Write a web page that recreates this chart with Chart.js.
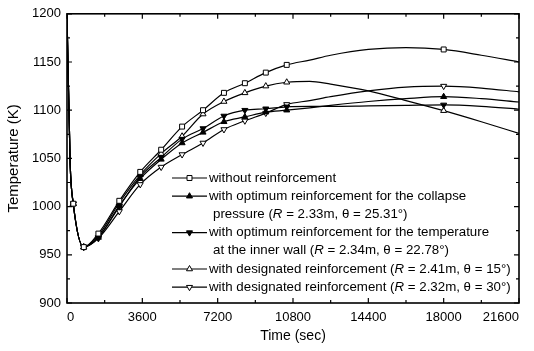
<!DOCTYPE html>
<html>
<head>
<meta charset="utf-8">
<script src="https://cdn.jsdelivr.net/npm/chart.js@4.4.1/dist/chart.umd.min.js"></script>
<style>
  html, body { margin: 0; padding: 0; background: #fff; }
  #wrap { width: 534px; height: 351px; }
</style>
</head>
<body>
<div id="wrap"><canvas id="myChart" width="534" height="351"></canvas></div>
<script>
// time (sec) of each point
var times = [0, 150, 300, 800, 1500, 2500, 3500, 4500, 5500, 6500, 7500, 8500, 9500, 10500, 11600, 12600, 14400, 16200, 18000, 19800, 21600];
// 1 = the original draws a symbol at that point
var showMarker = [0, 0, 1, 1, 1, 1, 1, 1, 1, 1, 1, 1, 1, 1, 0, 0, 0, 0, 1, 0, 0];

var withoutReinf = [1200, 1045, 1003, 958, 972, 1006, 1036, 1059, 1083, 1100, 1118, 1128, 1139, 1147, 1152, 1157, 1163, 1165, 1163, 1157, 1150];
var optCollapse  = [1200, 1045, 1003, 958, 968, 1001, 1029, 1049, 1066, 1077, 1088, 1093, 1098, 1100, 1102.5, 1105, 1109, 1112, 1114, 1112, 1108.5];
var optTemp      = [1200, 1045, 1003, 958, 968, 1000, 1031, 1051, 1070, 1081, 1094, 1100, 1101.5, 1103.5, 1104, 1104, 1104.5, 1105, 1105.5, 1104, 1101];
var desig15      = [1200, 1045, 1003, 958, 970, 1004, 1033, 1055, 1073, 1096, 1109, 1118, 1125, 1129, 1130, 1127, 1120, 1110, 1099.5, 1088, 1076];
var desig30      = [1200, 1045, 1003, 958, 967, 995, 1023, 1041, 1054, 1066, 1080, 1089, 1097, 1106, 1110, 1114, 1120, 1124, 1125, 1123, 1119];

var xTicks = [0, 3600, 7200, 10800, 14400, 18000, 21600];
var yTicks = [900, 950, 1000, 1050, 1100, 1150, 1200];

var legendText = [
  [[['without reinforcement', 0]]],
  [[['with optimum reinforcement for the collapse', 0]],
   [['pressure (', 0], ['R', 1], [' = 2.33m, \u03b8 = 25.31\u00b0)', 0]]],
  [[['with optimum reinforcement for the temperature', 0]],
   [['at the inner wall (', 0], ['R', 1], [' = 2.34m, \u03b8 = 22.78\u00b0)', 0]]],
  [[['with designated reinforcement (', 0], ['R', 1], [' = 2.41m, \u03b8 = 15\u00b0)', 0]]],
  [[['with designated reinforcement (', 0], ['R', 1], [' = 2.32m, \u03b8 = 30\u00b0)', 0]]]
];

var FONT = '"Liberation Sans", Arial, Helvetica, sans-serif';

function series(values, style, rot, fill) {
  return {
    data: times.map(function (t, i) { return { x: t, y: values[i] }; }),
    borderColor: '#000',
    borderWidth: 1.2,
    pointStyle: style,
    rotation: rot,
    pointBackgroundColor: fill,
    pointBorderColor: '#000',
    pointBorderWidth: 1,
    pointRadius: function (c) { return showMarker[c.dataIndex] ? 3.5 : 0; },
    cubicInterpolationMode: 'monotone',
    fill: false
  };
}

// frame with inward ticks on all four sides
var framePlugin = {
  id: 'frame',
  afterDraw: function (chart) {
    var ctx = chart.ctx, a = chart.chartArea;
    var xs = chart.scales.x, ys = chart.scales.y;
    ctx.save();
    ctx.strokeStyle = '#000';
    ctx.lineWidth = 1.2;
    for (var t = 0; t <= 21600; t += 1800) {
      var px = xs.getPixelForValue(t);
      var len = (t % 3600 === 0) ? 5 : 3;
      ctx.beginPath();
      ctx.moveTo(px, a.bottom); ctx.lineTo(px, a.bottom - len);
      ctx.moveTo(px, a.top); ctx.lineTo(px, a.top + len);
      ctx.stroke();
    }
    for (var v = 900; v <= 1200; v += 25) {
      var py = ys.getPixelForValue(v);
      var l2 = (v % 50 === 0) ? 5 : 3;
      ctx.beginPath();
      ctx.moveTo(a.left, py); ctx.lineTo(a.left + l2, py);
      ctx.moveTo(a.right, py); ctx.lineTo(a.right - l2, py);
      ctx.stroke();
    }
    ctx.lineWidth = 1.6;
    ctx.strokeRect(a.left, a.top, a.right - a.left, a.bottom - a.top);
    ctx.restore();
  }
};

// legend drawn inside the plot, with multi-line labels and italic R
var legendPlugin = {
  id: 'inLegend',
  afterDraw: function (chart) {
    var ctx = chart.ctx;
    var y = 178;
    ctx.save();
    ctx.textBaseline = 'middle';
    ctx.fillStyle = '#000';
    chart.data.datasets.forEach(function (ds, i) {
      legendText[i].forEach(function (line, j) {
        if (j === 0) {
          ctx.strokeStyle = '#000';
          ctx.lineWidth = 1.2;
          ctx.beginPath();
          ctx.moveTo(172, y); ctx.lineTo(207, y);
          ctx.stroke();
          ctx.fillStyle = ds.pointBackgroundColor;
          ctx.lineWidth = 1;
          Chart.helpers.drawPoint(ctx, { pointStyle: ds.pointStyle, rotation: ds.rotation, radius: 3.5, borderWidth: 1 }, 189.5, y);
          ctx.fillStyle = '#000';
        }
        var x = j === 0 ? 209 : 213;
        line.forEach(function (run) {
          ctx.font = (run[1] ? 'italic ' : '') + '13.3px ' + FONT;
          ctx.fillText(run[0], x, y);
          x += ctx.measureText(run[0]).width;
        });
        y += 18.2;
      });
    });
    ctx.restore();
  }
};

var ctx = document.getElementById('myChart').getContext('2d');
var chart = new Chart(ctx, {
  type: 'line',
  data: {
    datasets: [
      series(withoutReinf, 'rect', 0, '#fff'),
      series(optCollapse, 'triangle', 0, '#000'),
      series(optTemp, 'triangle', 180, '#000'),
      series(desig15, 'triangle', 0, '#fff'),
      series(desig30, 'triangle', 180, '#fff')
    ]
  },
  options: {
    responsive: false,
    animation: false,
    devicePixelRatio: 1,
    events: [],
    layout: { padding: { top: 10, right: 15, left: 0, bottom: 0 } },
    plugins: { legend: { display: false }, tooltip: { enabled: false } },
    scales: {
      x: {
        type: 'linear',
        min: 0,
        max: 21600,
        afterBuildTicks: function (s) { s.ticks = xTicks.map(function (v) { return { value: v }; }); },
        afterFit: function (s) { s.height = 48; },
        grid: { display: false, drawTicks: false },
        border: { display: false },
        ticks: { color: '#000', font: { family: FONT, size: 13 }, padding: 7, maxRotation: 0, align: 'inner',
                 callback: function (v) { return String(v); } },
        title: { display: true, text: 'Time (sec)', color: '#000', font: { family: FONT, size: 14 }, padding: { top: 0, bottom: 6 } }
      },
      y: {
        min: 900,
        max: 1200,
        afterBuildTicks: function (s) { s.ticks = yTicks.map(function (v) { return { value: v }; }); },
        afterFit: function (s) { s.width = 67; },
        grid: { display: false, drawTicks: false },
        border: { display: false },
        ticks: { color: '#000', font: { family: FONT, size: 13 }, padding: 6,
                 callback: function (v) { return String(v); } },
        title: { display: true, text: 'Temperature (K)', color: '#000', font: { family: FONT, size: 15 }, padding: { top: 5, bottom: 0 } }
      }
    }
  },
  plugins: [framePlugin, legendPlugin]
});
</script>
</body>
</html>
